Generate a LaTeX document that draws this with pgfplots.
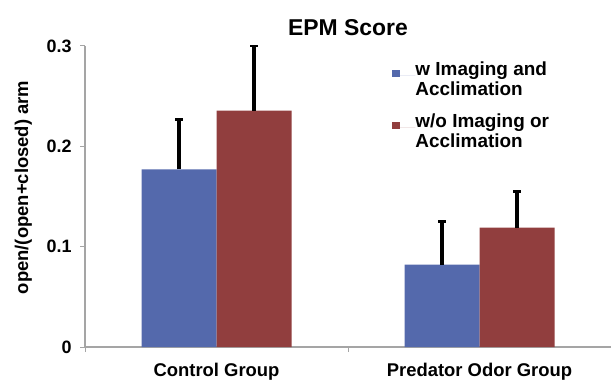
\documentclass[border=0pt]{standalone}
\usepackage{fontspec}
\setmainfont{Liberation Sans}
\usepackage{pgfplots}
\pgfplotsset{compat=1.18}
\definecolor{barblue}{RGB}{84,105,172}
\definecolor{barred}{RGB}{145,62,62}
\definecolor{axgray}{RGB}{165,165,165}
\begin{document}
\begin{tikzpicture}[x=1bp,y=1bp]
\useasboundingbox (0,0) rectangle (611,380);
\begin{axis}[
  at={(85bp,33bp)}, anchor=south west,
  scale only axis, width=526bp, height=301bp,
  xmin=-0.5, xmax=1.5, ymin=0, ymax=0.3,
  axis lines*=left,
  axis line style={axgray, line width=1.2bp},
  ybar=0pt, bar width=75bp,
  xtick={-0.5,0.5,1.5}, xticklabels={,,},
  extra x ticks={0,1},
  extra x tick labels={Control Group, Predator Odor Group},
  extra x tick style={major tick length=0pt, tick style={draw=none},
     xticklabel style={yshift=-13bp}},
  ytick={0,0.1,0.2,0.3}, yticklabels={0,0.1,0.2,0.3},
  tick align=outside, major tick length=5bp,
  tick style={axgray, line width=1bp},
  yticklabel style={font=\fontsize{18}{20}\selectfont\bfseries, xshift=-5bp},
  xticklabel style={font=\fontsize{18.5}{20}\selectfont\bfseries},
  title={EPM Score},
  title style={at={(axis description cs:0.5,1)}, anchor=base, yshift=5bp,
     font=\fontsize{23}{25}\selectfont\bfseries},
  ylabel={open/(open+closed) arm},
  ylabel style={at={(axis description cs:-0.117,0.53)}, anchor=center,
     font=\fontsize{18.5}{20}\selectfont\bfseries},
  legend style={at={(axis description cs:0.5842,0.921)}, anchor=north west,
     draw=none, fill=none, inner sep=0pt, row sep=44.5bp, column sep=0bp,
     font=\fontsize{19}{20}\selectfont\bfseries,
     nodes={inner sep=0pt, anchor=base west}},
  legend cell align=left,
  legend image code/.code={\fill[#1] (0bp,-2.3bp) rectangle (7.7bp,5.2bp);\path (0bp,0bp) -- (23bp,0bp);},
]
\addplot[fill=barblue, draw=none,
  error bars/.cd, y dir=plus, y explicit,
  error bar style={draw=black, line width=3.2bp},
  error mark options={draw=black, line width=3bp, mark size=4bp, rotate=90}]
  coordinates {(0,0.177) +- (0,0.050) (1,0.082) +- (0,0.043)};
\addlegendentry{\smash{\begin{tabular}[t]{@{}l@{}}w Imaging and\\Acclimation\end{tabular}}}
\addplot[fill=barred, draw=none,
  error bars/.cd, y dir=plus, y explicit,
  error bar style={draw=black, line width=3.2bp},
  error mark options={draw=black, line width=3bp, mark size=4bp, rotate=90}]
  coordinates {(0,0.2357) +- (0,0.0643) (1,0.119) +- (0,0.036)};
\addlegendentry{\smash{\begin{tabular}[t]{@{}l@{}}w/o Imaging or\\Acclimation\end{tabular}}}
\end{axis}
\end{tikzpicture}
\end{document}
